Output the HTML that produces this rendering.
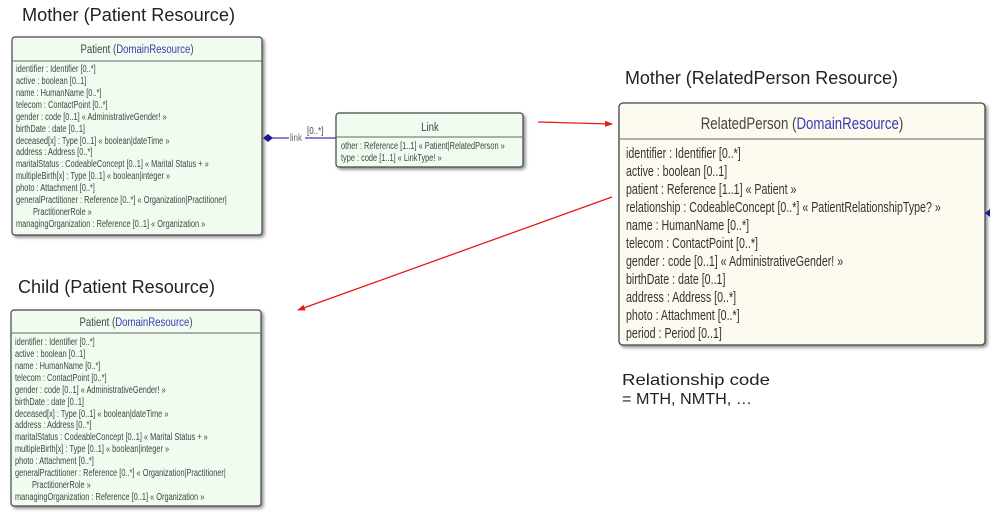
<!DOCTYPE html>
<html><head><meta charset="utf-8"><style>html,body{margin:0;padding:0;background:#fff}svg{display:block}</style></head>
<body>
<svg width="1000" height="523" xmlns="http://www.w3.org/2000/svg" font-family="Liberation Sans, sans-serif">
<defs>
<filter id="sh" x="-5%" y="-5%" width="115%" height="115%"><feDropShadow dx="2" dy="2" stdDeviation="1.5" flood-color="#000" flood-opacity="0.45"/></filter>
<marker id="ar" markerWidth="8" markerHeight="8" refX="7" refY="4" orient="auto" markerUnits="userSpaceOnUse"><path d="M0,1 L8,4 L0,7 Z" fill="#e41a1a"/></marker>
</defs>
<g fill="#222" font-size="18">
<text x="22" y="21" textLength="213" lengthAdjust="spacingAndGlyphs">Mother (Patient Resource)</text>
<text x="625" y="84" textLength="273" lengthAdjust="spacingAndGlyphs">Mother (RelatedPerson Resource)</text>
<text x="18" y="293" textLength="197" lengthAdjust="spacingAndGlyphs">Child (Patient Resource)</text>
<text x="622" y="385" font-size="16" textLength="148" lengthAdjust="spacingAndGlyphs">Relationship code</text>
<text x="622" y="404" font-size="16" textLength="130" lengthAdjust="spacingAndGlyphs">= MTH, NMTH, …</text>
</g>
<rect x="12" y="37" width="250" height="198" rx="3" fill="#f0fcef" stroke="#444" stroke-width="1.2" filter="url(#sh)"/>
<line x1="12" y1="61" x2="262" y2="61" stroke="#666"/>
<text x="137" y="53" font-size="12" text-anchor="middle" fill="#444" transform="translate(137 0) scale(0.8 1) translate(-137 0)">Patient (<tspan fill="#3a3ab8">DomainResource</tspan>)</text>
<g font-size="10" fill="#444" transform="translate(16 0) scale(0.74 1)">
<text x="0" y="72">identifier : Identifier [0..*]</text>
<text x="0" y="84">active : boolean [0..1]</text>
<text x="0" y="96">name : HumanName [0..*]</text>
<text x="0" y="108">telecom : ContactPoint [0..*]</text>
<text x="0" y="120">gender : code [0..1] « AdministrativeGender! »</text>
<text x="0" y="132">birthDate : date [0..1]</text>
<text x="0" y="144">deceased[x] : Type [0..1] « boolean|dateTime »</text>
<text x="0" y="155">address : Address [0..*]</text>
<text x="0" y="167">maritalStatus : CodeableConcept [0..1] « Marital Status + »</text>
<text x="0" y="179">multipleBirth[x] : Type [0..1] « boolean|integer »</text>
<text x="0" y="191">photo : Attachment [0..*]</text>
<text x="0" y="203">generalPractitioner : Reference [0..*] « Organization|Practitioner|</text>
<text x="23" y="215">PractitionerRole »</text>
<text x="0" y="227">managingOrganization : Reference [0..1] « Organization »</text>
</g>
<line x1="270" y1="138" x2="336" y2="138" stroke="#3a3ab8" stroke-width="1.2"/>
<path d="M263,138 L268,134 L273,138 L268,142 Z" fill="#1a1a8a"/>
<rect x="289" y="133" width="16" height="9" fill="#fff"/>
<text x="290" y="141" font-size="10" fill="#666" transform="translate(290 0) scale(0.8 1) translate(-290 0)">link</text>
<text x="307" y="134" font-size="10" fill="#444" transform="translate(307 0) scale(0.8 1) translate(-307 0)">[0..*]</text>
<rect x="336" y="113" width="187" height="54" rx="3" fill="#f0fcef" stroke="#444" stroke-width="1.2" filter="url(#sh)"/>
<line x1="336" y1="137" x2="523" y2="137" stroke="#666"/>
<text x="430" y="131" font-size="12" text-anchor="middle" fill="#444" transform="translate(430 0) scale(0.8 1) translate(-430 0)">Link</text>
<g font-size="10" fill="#444" transform="translate(341 0) scale(0.74 1)">
<text x="0" y="149">other : Reference [1..1] « Patient|RelatedPerson »</text>
<text x="0" y="161">type : code [1..1] « LinkType! »</text>
</g>
<rect x="619" y="103" width="366" height="242" rx="4" fill="#fdfaf0" stroke="#444" stroke-width="1.3" filter="url(#sh)"/>
<line x1="619" y1="139" x2="985" y2="139" stroke="#666"/>
<text x="802" y="129" font-size="17" text-anchor="middle" fill="#444" transform="translate(802 0) scale(0.78 1) translate(-802 0)">RelatedPerson (<tspan fill="#3a3ab8">DomainResource</tspan>)</text>
<g font-size="15" fill="#333" transform="translate(626 0) scale(0.71 1)">
<text x="0" y="158">identifier : Identifier [0..*]</text>
<text x="0" y="176">active : boolean [0..1]</text>
<text x="0" y="194">patient : Reference [1..1] « Patient »</text>
<text x="0" y="212">relationship : CodeableConcept [0..*] « PatientRelationshipType? »</text>
<text x="0" y="230">name : HumanName [0..*]</text>
<text x="0" y="248">telecom : ContactPoint [0..*]</text>
<text x="0" y="266">gender : code [0..1] « AdministrativeGender! »</text>
<text x="0" y="284">birthDate : date [0..1]</text>
<text x="0" y="302">address : Address [0..*]</text>
<text x="0" y="320">photo : Attachment [0..*]</text>
<text x="0" y="338">period : Period [0..1]</text>
</g>
<path d="M985,213 L990,209 L990,217 Z" fill="#1a1a8a"/>
<rect x="11" y="310" width="250" height="196" rx="3" fill="#f0fcef" stroke="#444" stroke-width="1.2" filter="url(#sh)"/>
<line x1="11" y1="333" x2="261" y2="333" stroke="#666"/>
<text x="136" y="326" font-size="12" text-anchor="middle" fill="#444" transform="translate(136 0) scale(0.8 1) translate(-136 0)">Patient (<tspan fill="#3a3ab8">DomainResource</tspan>)</text>
<g font-size="10" fill="#444" transform="translate(15 0) scale(0.74 1)">
<text x="0" y="345">identifier : Identifier [0..*]</text>
<text x="0" y="357">active : boolean [0..1]</text>
<text x="0" y="369">name : HumanName [0..*]</text>
<text x="0" y="381">telecom : ContactPoint [0..*]</text>
<text x="0" y="393">gender : code [0..1] « AdministrativeGender! »</text>
<text x="0" y="405">birthDate : date [0..1]</text>
<text x="0" y="417">deceased[x] : Type [0..1] « boolean|dateTime »</text>
<text x="0" y="428">address : Address [0..*]</text>
<text x="0" y="440">maritalStatus : CodeableConcept [0..1] « Marital Status + »</text>
<text x="0" y="452">multipleBirth[x] : Type [0..1] « boolean|integer »</text>
<text x="0" y="464">photo : Attachment [0..*]</text>
<text x="0" y="476">generalPractitioner : Reference [0..*] « Organization|Practitioner|</text>
<text x="23" y="488">PractitionerRole »</text>
<text x="0" y="500">managingOrganization : Reference [0..1] « Organization »</text>
</g>
<line x1="538" y1="122" x2="612" y2="124" stroke="#e41a1a" stroke-width="1.3" marker-end="url(#ar)"/>
<line x1="612" y1="197" x2="298" y2="310" stroke="#e41a1a" stroke-width="1.3" marker-end="url(#ar)"/>
</svg>
</body></html>
